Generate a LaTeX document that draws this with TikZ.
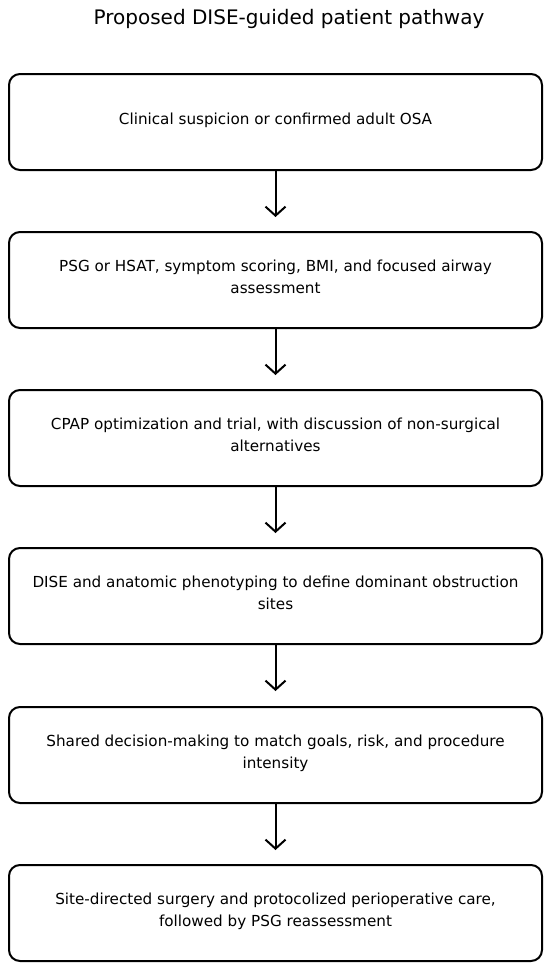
\documentclass[tikz,border=0pt]{standalone}
\usepackage{fontspec}
\setmainfont{DejaVu Sans}
\usetikzlibrary{arrows.meta}
\begin{document}
\begin{tikzpicture}[x=1pt,y=1pt,
  stepbox/.style={draw=black, line width=2pt, rounded corners=11pt, minimum width=533pt, minimum height=96pt, align=center, font=\fontsize{15.2}{22}\selectfont, inner sep=0pt},
  oneline/.style={text height=12pt, text depth=7pt},
  twoline/.style={text height=34pt, text depth=7pt},
  flow/.style={line width=2pt, -{Straight Barb[length=9pt,width=20pt,line width=2pt]}, shorten >=0pt}]
\useasboundingbox (0,0) rectangle (550,-974);
\node[font=\fontsize{20}{22}\selectfont] (title) at (289,-19) {Proposed DISE-guided patient pathway};
\node[stepbox, oneline] (b1) at (275.5,-122) {Clinical suspicion or confirmed adult OSA};
\node[stepbox, twoline] (b2) at (275.5,-280) {PSG or HSAT, symptom scoring, BMI, and focused airway\\assessment};
\node[stepbox, twoline] (b3) at (275.5,-438) {CPAP optimization and trial, with discussion of non-surgical\\alternatives};
\node[stepbox, twoline] (b4) at (275.5,-596) {DISE and anatomic phenotyping to define dominant obstruction\\sites};
\node[stepbox, twoline] (b5) at (275.5,-755) {Shared decision-making to match goals, risk, and procedure\\intensity};
\node[stepbox, twoline] (b6) at (275.5,-913) {Site-directed surgery and protocolized perioperative care,\\followed by PSG reassessment};
\draw[flow] (b1.south) -- ++(0,-46);
\draw[flow] (b2.south) -- ++(0,-46);
\draw[flow] (b3.south) -- ++(0,-46);
\draw[flow] (b4.south) -- ++(0,-46);
\draw[flow] (b5.south) -- ++(0,-46);
\end{tikzpicture}
\end{document}
